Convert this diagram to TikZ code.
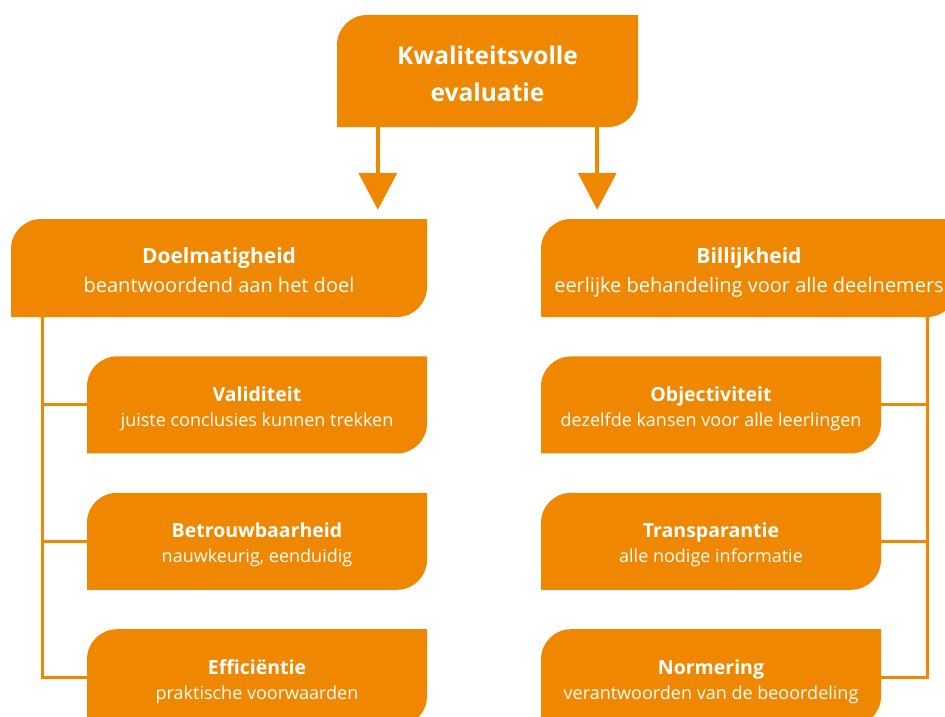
\documentclass[tikz,border=0pt]{standalone}
\usepackage{fontspec}
\setmainfont{Open Sans}
\usepackage{tikz}
\usetikzlibrary{calc}
\usetikzlibrary{positioning}
\usetikzlibrary{arrows.meta}
\definecolor{kvOrange}{RGB}{240,135,0}

\begin{document}
\begin{tikzpicture}[node distance = 39pt]
            % Set primary nodes
            \tikzset{
                cornerBox/.style={
                        rectangle,
                        fill=white,
                        text=white,
                        align=center,
                        inner sep=0pt,
                        path picture={
                                \fill[kvOrange] (path picture bounding box.south west)
                                    -- ([yshift=-30pt]path picture bounding box.north west)
                                    arc[start angle=180, end angle=90, radius=30pt]
                                    -- (path picture bounding box.north east)
                                    -- ([yshift=30pt]path picture bounding box.south east)
                                    arc[start angle=0, end angle=-90, radius=30pt]
                                    -- cycle;
                            }
                    }
            }
            \tikzset{
                topNode/.style={
                        cornerBox,
                        minimum width=301pt,
                        minimum height=112pt,
                        text height=60pt,
                        text depth=0pt,
                        font=\fontsize{24.5}{37}\selectfont\bfseries
                    }
            }
            \tikzset{
                groupNode/.style={
                        cornerBox,
                        minimum width=416pt,
                        minimum height=98pt,
                        text height=48pt,
                        text depth=0pt,
                        font=\fontsize{20}{29}\selectfont
                    }
            }
            \tikzset{
                criterionNode/.style={
                        cornerBox,
                        minimum width=340pt,
                        minimum height=97pt,
                        text height=43pt,
                        text depth=0pt,
                        font=\fontsize{18}{25}\selectfont
                    }
            }
            % Configure lines
            \tikzset{arrow/.style={line width=4pt, kvOrange, -{Triangle[width=38pt, length=37pt]}}}
            \tikzset{link/.style={line width=3pt, kvOrange}}
            % Page frame
            \useasboundingbox (0,0) rectangle (945pt,-717pt);
            \clip (0,0) rectangle (945pt,-717pt);
            % Placing nodes
            \node[topNode] (quality) at (487.5pt,-71pt) {Kwaliteitsvolle\\evaluatie};
            \node[groupNode] (purpose) at (219pt,-268pt) {{\fontsize{21}{29}\selectfont\bfseries Doelmatigheid}\\beantwoordend aan het doel};
            \node[groupNode] (fairness) at (749pt,-268pt) {{\fontsize{21}{29}\selectfont\bfseries Billijkheid}\\eerlijke behandeling voor alle deelnemers};
            \node[criterionNode, below left = 39pt and 0pt of purpose.south east] (validity) {{\fontsize{19.5}{25}\selectfont\bfseries Validiteit}\\juiste conclusies kunnen trekken};
            \node[criterionNode, below = of validity] (reliability) {{\fontsize{19.5}{25}\selectfont\bfseries Betrouwbaarheid}\\nauwkeurig, eenduidig};
            \node[criterionNode, below = of reliability] (efficiency) {{\fontsize{19.5}{25}\selectfont\bfseries Efficiëntie}\\praktische voorwaarden};
            \node[criterionNode, below right = 39pt and 0pt of fairness.south west] (objectivity) {{\fontsize{19.5}{25}\selectfont\bfseries Objectiviteit}\\dezelfde kansen voor alle leerlingen};
            \node[criterionNode, below = of objectivity] (transparency) {{\fontsize{19.5}{25}\selectfont\bfseries Transparantie}\\alle nodige informatie};
            \node[criterionNode, below = of transparency] (norming) {{\fontsize{19.5}{25}\selectfont\bfseries Normering}\\verantwoorden van de beoordeling};
            % Draw arrows
            \coordinate (leftFoot) at ([xshift=41pt]quality.south west);
            \coordinate (rightFoot) at ([xshift=-41pt]quality.south east);
            \draw[arrow, shorten >=9pt] (leftFoot) -- (leftFoot |- purpose.north);
            \draw[arrow, shorten >=9pt] (rightFoot) -- (rightFoot |- fairness.north);
            % Draw links
            \coordinate (purposeSpine) at ([xshift=32pt]purpose.south west);
            \coordinate (fairnessSpine) at ([xshift=-30pt]fairness.south east);
            \draw[link] (purposeSpine) |- (efficiency.west);
            \draw[link] (purposeSpine |- validity.west) -- (validity.west);
            \draw[link] (purposeSpine |- reliability.west) -- (reliability.west);
            \draw[link] (fairnessSpine) |- (norming.east);
            \draw[link] (fairnessSpine |- objectivity.east) -- (objectivity.east);
            \draw[link] (fairnessSpine |- transparency.east) -- (transparency.east);

        \end{tikzpicture}
\end{document}
